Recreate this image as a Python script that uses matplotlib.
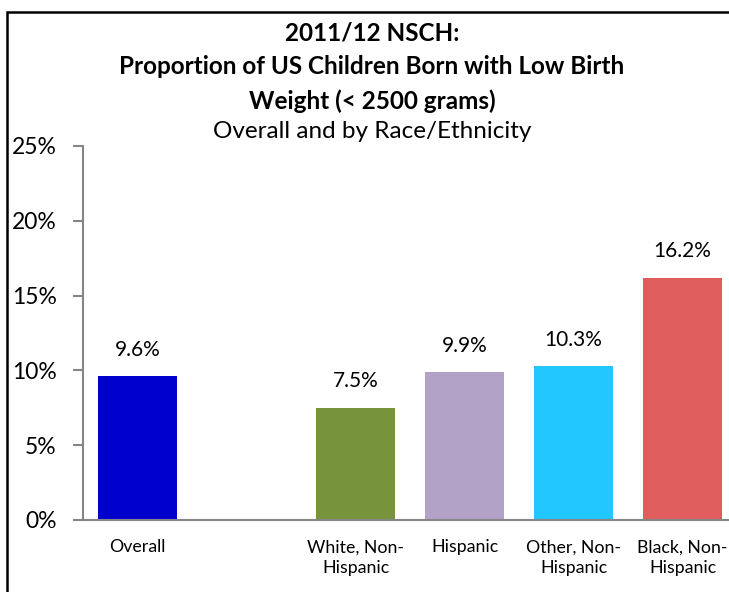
import matplotlib.pyplot as plt
from matplotlib.patches import Rectangle

# data
categories = ['Overall', '', 'White, Non-\nHispanic', 'Hispanic',
              'Other, Non-\nHispanic', 'Black, Non-\nHispanic']
values = [9.6, None, 7.5, 9.9, 10.3, 16.2]
colors = ['#0000CC', 'white', '#77933C', '#B3A2C7', '#22C7FF', '#E05D5D']

plt.rcParams['font.family'] = ['Lato', 'DejaVu Sans']

fig = plt.figure(figsize=(7.29, 5.92), dpi=100)
ax = fig.add_axes([83 / 729, 1 - 520 / 592, 654 / 729, 374 / 592])

# outer frame of the chart area
fig.patches.append(Rectangle((7 / 729, -0.2), 1.2, 1.2 - 12 / 592,
                             transform=fig.transFigure, fill=False,
                             edgecolor='black', linewidth=1.8))

xs = list(range(len(categories)))
for x, v, c in zip(xs, values, colors):
    if v is None:
        continue
    ax.bar(x, v, width=0.72, color=c)
    ax.annotate(f'{v:.1f}%', (x, v), xytext=(0, 19), textcoords='offset points',
                ha='center', va='center', fontsize=15)

ax.set_xlim(-0.5, 5.5)
ax.set_ylim(0, 25)
ax.set_yticks([0, 5, 10, 15, 20, 25])
ax.set_yticklabels([f'{t}%' for t in [0, 5, 10, 15, 20, 25]], fontsize=16.5)
ax.set_xticks(xs)
ax.set_xticklabels(categories, fontsize=12.8, linespacing=1.35)
ax.tick_params(axis='x', length=0, pad=14)
ax.tick_params(axis='y', length=7, width=1.5, color='#868686', pad=12)

for s in ['top', 'right']:
    ax.spines[s].set_visible(False)
for s in ['left', 'bottom']:
    ax.spines[s].set_color('#868686')
    ax.spines[s].set_linewidth(1.5)

fig.text(372 / 729, 1 - 33 / 592, '2011/12 NSCH:', ha='center', va='center',
         fontsize=17.5, fontweight='bold')
fig.text(372 / 729, 1 - 67 / 592, 'Proportion of US Children Born with Low Birth',
         ha='center', va='center', fontsize=17.5, fontweight='bold')
fig.text(372 / 729, 1 - 101 / 592, 'Weight (< 2500 grams)', ha='center',
         va='center', fontsize=17.5, fontweight='bold')
fig.text(372 / 729, 1 - 131 / 592, 'Overall and by Race/Ethnicity', ha='center',
         va='center', fontsize=17.5)

fig.savefig('out.png', dpi=100)
